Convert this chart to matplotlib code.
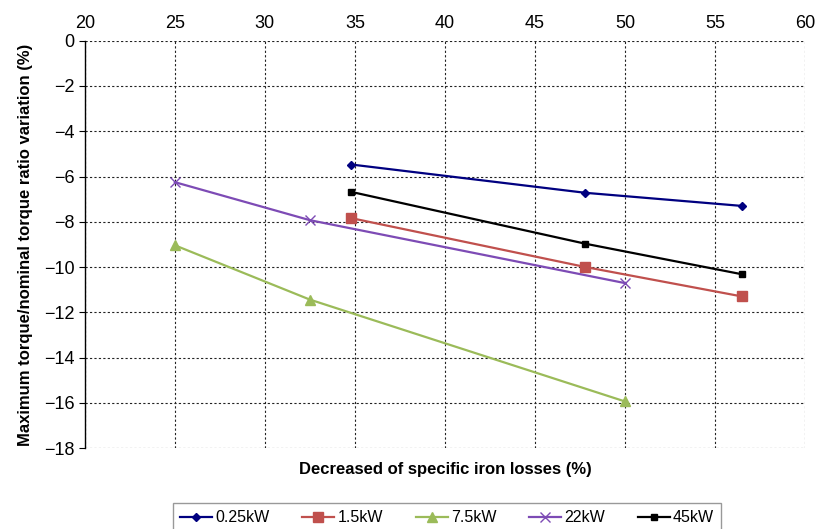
import numpy as np
import matplotlib.pyplot as plt

plt.rcParams['font.family'] = ['Liberation Sans', 'DejaVu Sans']

# iron loss decrease (%) and max torque / nominal torque variation (%)
x_small = [34.8, 47.8, 56.5]
x_mid = [25.0, 32.5, 50.0]

y_025kw = [-5.47, -6.72, -7.30]
y_15kw = [-7.84, -10.0, -11.30]
y_75kw = [-9.04, -11.44, -15.94]
y_22kw = [-6.25, -7.93, -10.71]
y_45kw = [-6.68, -8.97, -10.32]

labels = ['0.25kW', '1.5kW', '7.5kW', '22kW', '45kW']

fig = plt.figure(figsize=(8.16, 5.29), dpi=100)
ax = fig.add_axes([0.104, 0.153, 0.8825, 0.770])

ax.plot(x_small, y_025kw, color='#000080', marker='D', markersize=4, lw=1.6, label=labels[0])
ax.plot(x_small, y_15kw, color='#C0504D', marker='s', markersize=7, lw=1.6, label=labels[1])
ax.plot(x_mid, y_75kw, color='#9BBB59', marker='^', markersize=7, lw=1.6, label=labels[2])
ax.plot(x_mid, y_22kw, color='#7D4BB5', marker='x', markersize=7, mew=1.0, lw=1.6, label=labels[3])
ax.plot(x_small, y_45kw, color='black', marker='s', markersize=5, lw=1.6, label=labels[4])

ax.set_xlim(20, 60)
ax.set_ylim(-18, 0)
ax.set_xticks(np.arange(20, 61, 5))
ax.set_yticks(np.arange(-18, 1, 2))
ax.xaxis.tick_top()
ax.tick_params(direction='out', length=4, labelsize=13, colors='black')
ax.tick_params(axis='x', length=0, pad=6)
ax.grid(True, color='#222222', linestyle=(0, (2, 2)), linewidth=0.8)
for s in ax.spines.values():
    s.set_visible(False)
ax.spines['left'].set_visible(True)
ax.spines['left'].set_linewidth(1.0)

ax.set_xlabel('Decreased of specific iron losses (%)', fontsize=12, fontweight='bold', labelpad=10)
ax.xaxis.set_label_position('bottom')
ax.set_ylabel('Maximum torque/nominal torque ratio variation (%)', fontsize=12,
              fontweight='bold', labelpad=8)

leg = fig.legend(loc='upper center', bbox_to_anchor=(0.548, 0.049), ncol=5,
                 fontsize=11.5, frameon=True, fancybox=False, edgecolor='#808080',
                 handlelength=2.0, handletextpad=0.2, columnspacing=2.05,
                 borderpad=0.45, borderaxespad=0)
leg.get_frame().set_linewidth(1.0)

fig.savefig('out.png', dpi=100)
